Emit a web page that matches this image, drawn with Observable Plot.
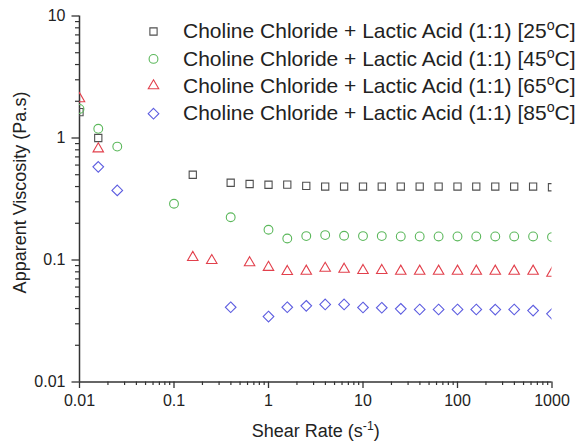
<!DOCTYPE html>
<html>
<head>
<meta charset="utf-8">
<script src="https://cdn.jsdelivr.net/npm/d3@7"></script>
<script src="https://cdn.jsdelivr.net/npm/@observablehq/plot@0.6"></script>
<style>
  body { margin: 0; background: #fff; }
  #chart svg { font-family: "Liberation Sans", Arial, sans-serif; }
</style>
</head>
<body>
<div id="chart"></div>
<script>
// ---- Data ----
const seriesLabels = [
  "Choline Chloride + Lactic Acid (1:1) [25°C]",
  "Choline Chloride + Lactic Acid (1:1) [45°C]",
  "Choline Chloride + Lactic Acid (1:1) [65°C]",
  "Choline Chloride + Lactic Acid (1:1) [85°C]"
];

// 25 °C (squares)
const shear25 = [0.01, 0.0158, 0.158, 0.398, 0.631, 1, 1.58, 2.51, 3.98, 6.31, 10, 15.8, 25.1, 39.8, 63.1, 100, 158, 251, 398, 631, 1000];
const visc25  = [1.63, 1.0, 0.50, 0.43, 0.42, 0.414, 0.415, 0.405, 0.40, 0.40, 0.40, 0.40, 0.40, 0.40, 0.40, 0.40, 0.40, 0.40, 0.40, 0.40, 0.395];

// 45 °C (circles)
const shear45 = [0.01, 0.0158, 0.0251, 0.1, 0.398, 1, 1.58, 2.51, 3.98, 6.31, 10, 15.8, 25.1, 39.8, 63.1, 100, 158, 251, 398, 631, 1000];
const visc45  = [1.73, 1.19, 0.85, 0.289, 0.224, 0.177, 0.150, 0.157, 0.160, 0.158, 0.157, 0.157, 0.156, 0.156, 0.156, 0.156, 0.156, 0.156, 0.156, 0.156, 0.154];

// 65 °C (triangles)
const shear65 = [0.01, 0.0158, 0.158, 0.251, 0.631, 1, 1.58, 2.51, 3.98, 6.31, 10, 15.8, 25.1, 39.8, 63.1, 100, 158, 251, 398, 631, 1000];
const visc65  = [2.1, 0.815, 0.105, 0.099, 0.095, 0.087, 0.0805, 0.081, 0.0855, 0.084, 0.082, 0.082, 0.081, 0.081, 0.081, 0.081, 0.081, 0.081, 0.081, 0.081, 0.078];

// 85 °C (diamonds)
const shear85 = [0.0158, 0.0251, 0.398, 1, 1.58, 2.51, 3.98, 6.31, 10, 15.8, 25.1, 39.8, 63.1, 100, 158, 251, 398, 631, 1000];
const visc85  = [0.58, 0.372, 0.041, 0.0344, 0.041, 0.0421, 0.0432, 0.0432, 0.0408, 0.0406, 0.0398, 0.0393, 0.0393, 0.0393, 0.0393, 0.0392, 0.0393, 0.0385, 0.0362];

// Axis ticks
const xTicks = [0.01, 0.1, 1, 10, 100, 1000];
const xTickLabels = ["0.01", "0.1", "1", "10", "100", "1000"];
const yTicks = [0.01, 0.1, 1, 10];
const yTickLabels = ["0.01", "0.1", "1", "10"];
const minorMultipliers = [2, 3, 4, 5, 6, 7, 8, 9];
const xDecades = [0.01, 0.1, 1, 10, 100];
const yDecades = [0.01, 0.1, 1];

const xTitle = "Shear Rate (s-1)";
const yTitle = "Apparent Viscosity (Pa.s)";

// ---- Build tables ----
const xMinor = xDecades.flatMap(d => minorMultipliers.map(m => d * m));
const yMinor = yDecades.flatMap(d => minorMultipliers.map(m => d * m));
const rows = (xs, ys) => xs.map((x, i) => ({x, y: ys[i]}));

const styles = [
  {symbol: "square2",   stroke: "#4f4f4f", r: 4.6},
  {symbol: "circle",    stroke: "#5cb85c", r: 4.4},
  {symbol: "triangle2", stroke: "#e2404c", r: 5.0},
  {symbol: "diamond2",  stroke: "#5d5de0", r: 4.8}
];
const data = [rows(shear25, visc25), rows(shear45, visc45), rows(shear65, visc65), rows(shear85, visc85)];

const legendRowY = [15.5, 42.9, 69.8, 97.7];

const marks = [
  // minor ticks
  Plot.axisX({ticks: xMinor, tickSize: 3.5, tickFormat: () => "", label: null, stroke: "#333", strokeWidth: 1.2}),
  Plot.axisY({ticks: yMinor, tickSize: 4, tickFormat: () => "", label: null, stroke: "#333", strokeWidth: 1.2}),
  // major ticks
  Plot.axisX({ticks: xTicks, tickSize: 6.5, tickPadding: 6, fontSize: 16,
    tickFormat: d => xTickLabels[xTicks.indexOf(d)], label: null, stroke: "#333", strokeWidth: 1.3}),
  Plot.axisY({ticks: yTicks, tickSize: 7.5, tickPadding: 6.5, fontSize: 16,
    tickFormat: d => yTickLabels[yTicks.indexOf(d)], label: null, stroke: "#333", strokeWidth: 1.3}),
  // axis lines
  Plot.ruleY([0.01], {stroke: "#333", strokeWidth: 1.5}),
  Plot.ruleX([0.01], {stroke: "#333", strokeWidth: 1.5}),
  // axis titles
  Plot.text([yTitle], {text: d => d, frameAnchor: "left", dx: -59, dy: -6.5, rotate: -90,
    textAnchor: "middle", lineAnchor: "middle", fontSize: 18, fill: "#222"}),
  Plot.text([xTitle], {text: d => d, frameAnchor: "bottom", dy: 49,
    textAnchor: "middle", lineAnchor: "middle", fontSize: 18, fill: "#222"})
];

data.forEach((rs, i) => {
  const s = styles[i];
  marks.push(Plot.dot(rs, {x: "x", y: "y", symbol: s.symbol, r: s.r, stroke: s.stroke, fill: "none", strokeWidth: 1.1, clip: true}));
});

// legend inside the frame (top-right)
seriesLabels.forEach((label, i) => {
  const s = styles[i];
  marks.push(Plot.dot([label], {frameAnchor: "top-left", dx: 74, dy: legendRowY[i], symbol: s.symbol, r: s.r, stroke: s.stroke, fill: "none", strokeWidth: 1.1}));
  marks.push(Plot.text([label], {text: d => d, frameAnchor: "top-left", dx: 103.5, dy: legendRowY[i],
    textAnchor: "start", lineAnchor: "middle", fontSize: 21, fill: "#222"}));
});

const chart = Plot.plot({
  width: 577,
  height: 448,
  marginLeft: 79,
  marginRight: 25.5,
  marginTop: 15.5,
  marginBottom: 66.5,
  x: {type: "log", domain: [0.01, 1000]},
  y: {type: "log", domain: [0.01, 10]},
  style: {fontFamily: "'Liberation Sans', Arial, sans-serif", color: "#222", background: "#fff", overflow: "visible"},
  marks
});
document.getElementById("chart").appendChild(chart);

// ---- superscripts (°C → raised "o", s-1 → raised "-1") ----
d3.select(chart).selectAll("text").each(function () {
  const el = d3.select(this);
  const t = this.textContent;
  let m = t.match(/^(.*\[\d+)°(C\])$/);
  if (m) {
    el.text(null);
    el.append("tspan").text(m[1]);
    el.append("tspan").attr("baseline-shift", "super").attr("font-size", "68%").text("o");
    el.append("tspan").text(m[2]);
    return;
  }
  m = t.match(/^(.*\(s)(-1)(\))$/);
  if (m) {
    el.text(null);
    el.append("tspan").text(m[1]);
    el.append("tspan").attr("baseline-shift", "super").attr("font-size", "68%").text(m[2]);
    el.append("tspan").text(m[3]);
  }
});
</script>
</body>
</html>
